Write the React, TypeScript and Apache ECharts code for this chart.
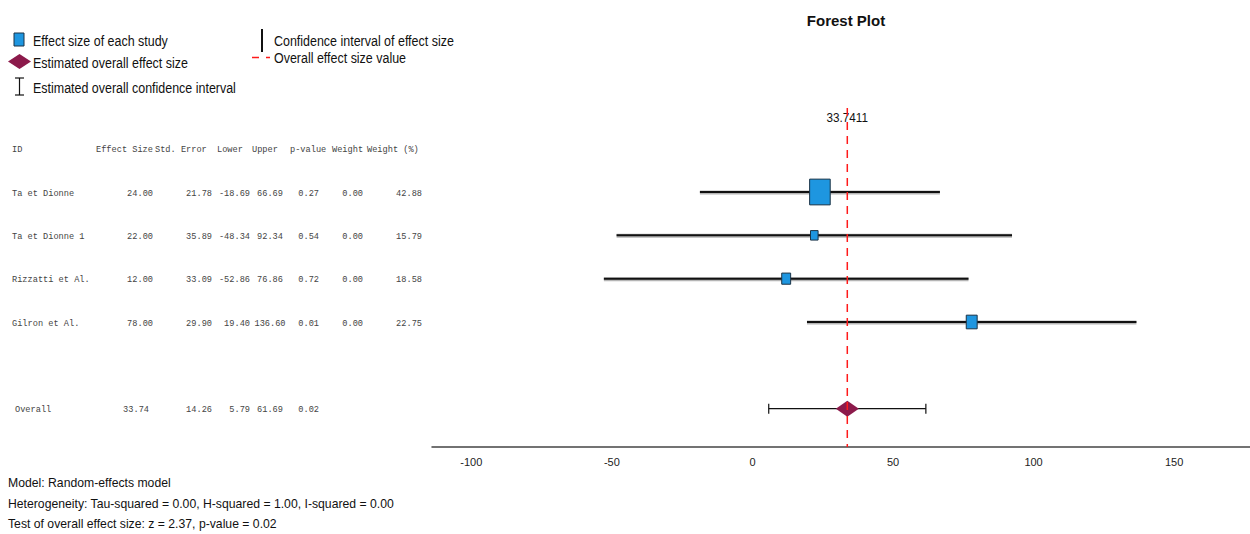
import React, { useEffect, useRef } from "react";
import * as echarts from "echarts";

// ---------- data ----------
const studyIds = ["Ta et Dionne", "Ta et Dionne 1", "Rizzatti et Al.", "Gilron et Al."];
const effectSizes = [24.0, 22.0, 12.0, 78.0];
const stdErrors = [21.78, 35.89, 33.09, 29.9];
const lowers = [-18.69, -48.34, -52.86, 19.4];
const uppers = [66.69, 92.34, 76.86, 136.6];
const pValues = [0.27, 0.54, 0.72, 0.01];
const weights = [0.0, 0.0, 0.0, 0.0];
const weightPcts = [42.88, 15.79, 18.58, 22.75];

const overallLabel = "Overall";
const overallEffect = 33.7411;
const overallSE = 14.26;
const overallLower = 5.79;
const overallUpper = 61.69;
const overallP = 0.02;

const xTicks = [-100, -50, 0, 50, 100, 150];
const tableHeaders = ["Effect Size", "Std. Error", "Lower", "Upper", "p-value", "Weight", "Weight (%)"];
const footerLines = [
  "Model: Random-effects model",
  "Heterogeneity: Tau-squared = 0.00, H-squared = 1.00, I-squared = 0.00",
  "Test of overall effect size: z = 2.37, p-value = 0.02",
];

// ---------- layout ----------
const W = 1250;
const H = 534;
const GRID_LEFT = 432;
const GRID_TOP = 108;
const AXIS_Y = 447;
const ROW1_Y = 192;
const ROW_STEP = 43.33;
const OVERALL_ROW = 6;
const HEADER_ROW = 0;

const SANS = '"Liberation Sans", "Noto Sans", sans-serif';
const MONO = '"Liberation Mono", monospace';
const BLUE = "#1e96e0";
const BOX_EDGE = "#1b3346";
const MAROON = "#8c1a4b";
const RED = "#ff1a1a";

const headerLeftX = [96, 155, 217, 252, 290, 332, 367];
const colPos: [number, string][] = [
  [153, "right"],
  [212, "right"],
  [250, "right"],
  [270, "center"],
  [319, "right"],
  [363, "right"],
  [422, "right"],
];

export default function App() {
  const ref = useRef<HTMLDivElement>(null);

  useEffect(() => {
    if (!ref.current) return;
    const chart = echarts.init(ref.current, null, { renderer: "svg" });

    const yMin = 1 - (ROW1_Y - GRID_TOP) / ROW_STEP;
    const yMax = 1 + (AXIS_Y - ROW1_Y) / ROW_STEP;

    const studyData = studyIds.map((_, i) => [
      effectSizes[i],
      lowers[i],
      uppers[i],
      weightPcts[i],
      i + 1,
    ]);

    chart.setOption({
      animation: false,
      backgroundColor: "#ffffff",
      title: {
        text: "Forest Plot",
        left: GRID_LEFT + (W - GRID_LEFT) / 2,
        textAlign: "center",
        top: 8,
        textStyle: { fontFamily: SANS, fontSize: 15, fontWeight: "bold", color: "#111" },
      },
      grid: { left: GRID_LEFT, right: 0, top: GRID_TOP, bottom: H - AXIS_Y },
      xAxis: {
        type: "value",
        min: -114,
        max: 177,
        axisLine: { show: true, onZero: false, lineStyle: { color: "#444", width: 1.5 } },
        axisTick: { show: false },
        splitLine: { show: false },
        axisLabel: {
          customValues: xTicks,
          margin: 9,
          fontFamily: SANS,
          fontSize: 11,
          color: "#222",
        },
      },
      yAxis: {
        type: "value",
        inverse: true,
        min: yMin,
        max: yMax,
        show: false,
      },
      series: [
        {
          type: "custom",
          name: "studies",
          data: studyData,
          encode: { x: 0, y: 4 },
          renderItem: (params: any, api: any) => {
            const row = api.value(4);
            const c = api.coord([api.value(0), row]);
            const l = api.coord([api.value(1), row]);
            const u = api.coord([api.value(2), row]);
            const wp = api.value(3);
            const bw = wp * 0.48;
            const bh = wp * 0.6;
            return {
              type: "group",
              children: [
                {
                  type: "line",
                  shape: { x1: l[0], y1: l[1] + 0.5, x2: u[0], y2: u[1] + 0.5 },
                  style: { stroke: "#b5b5b5", lineWidth: 4 },
                },
                {
                  type: "line",
                  shape: { x1: l[0], y1: l[1], x2: u[0], y2: u[1] },
                  style: { stroke: "#111", lineWidth: 2 },
                },
                {
                  type: "rect",
                  shape: { x: c[0] - bw / 2, y: c[1] - bh / 2, width: bw, height: bh },
                  style: { fill: BLUE, stroke: BOX_EDGE, lineWidth: 1 },
                },
              ],
            };
          },
        },
        {
          type: "custom",
          name: "overall",
          data: [[overallEffect, overallLower, overallUpper, OVERALL_ROW]],
          encode: { x: 0, y: 3 },
          renderItem: (params: any, api: any) => {
            const row = api.value(3);
            const c = api.coord([api.value(0), row]);
            const l = api.coord([api.value(1), row]);
            const u = api.coord([api.value(2), row]);
            return {
              type: "group",
              children: [
                { type: "line", shape: { x1: l[0], y1: l[1], x2: u[0], y2: u[1] }, style: { stroke: "#111", lineWidth: 1.2 } },
                { type: "line", shape: { x1: l[0], y1: l[1] - 5, x2: l[0], y2: l[1] + 5 }, style: { stroke: "#111", lineWidth: 1.2 } },
                { type: "line", shape: { x1: u[0], y1: u[1] - 5, x2: u[0], y2: u[1] + 5 }, style: { stroke: "#111", lineWidth: 1.2 } },
                {
                  type: "polygon",
                  shape: { points: [[c[0] - 11.5, c[1]], [c[0], c[1] - 8], [c[0] + 11.5, c[1]], [c[0], c[1] + 8]] },
                  style: { fill: MAROON },
                },
              ],
            };
          },
        },
      ],
    });

    const rowY = (r: number) => (chart.convertToPixel({ yAxisIndex: 0 }, r) as number) + 1;
    const meanX = chart.convertToPixel({ xAxisIndex: 0 }, overallEffect) as number;

    const g: any[] = [];
    const mono = (text: string, x: number, y: number, align: string) => ({
      type: "text",
      x,
      y,
      scaleX: 0.9,
      style: { text, fontFamily: MONO, fontSize: 9.6, fill: "#444", align, verticalAlign: "middle" },
    });
    const sans = (text: string, x: number, y: number, size: number, sx: number) => ({
      type: "text",
      x,
      y,
      scaleX: sx,
      style: { text, fontFamily: SANS, fontSize: size, fill: "#111", align: "left", verticalAlign: "middle" },
    });

    // header
    const hy = rowY(HEADER_ROW);
    g.push(mono("ID", 12, hy, "left"));
    tableHeaders.forEach((h, i) => g.push(mono(h, headerLeftX[i], hy, "left")));

    studyIds.forEach((id, i) => {
      const y = rowY(i + 1);
      g.push(mono(id, 12, y, "left"));
      const vals = [effectSizes[i], stdErrors[i], lowers[i], uppers[i], pValues[i], weights[i], weightPcts[i]];
      vals.forEach((v, j) => g.push(mono(v.toFixed(2), colPos[j][0], y, colPos[j][1])));
    });

    const oy = rowY(OVERALL_ROW);
    g.push(mono(overallLabel, 15, oy, "left"));
    const oVals = [overallEffect, overallSE, overallLower, overallUpper, overallP];
    oVals.forEach((v, j) =>
      g.push(mono(v.toFixed(2), colPos[j][0] - (j === 0 ? 4 : 0), oy, colPos[j][1]))
    );

    // dashed overall line
    g.push({
      type: "line",
      z: 5,
      shape: { x1: meanX, y1: GRID_TOP, x2: meanX, y2: AXIS_Y },
      style: { stroke: RED, lineWidth: 1.5, lineDash: [8, 6] },
    });

    // mean label above dashed line
    g.push({
      type: "text",
      x: meanX,
      y: 118,
      z: 4,
      scaleX: 0.9,
      style: { text: String(overallEffect), fontFamily: SANS, fontSize: 13, fill: "#111", align: "center", verticalAlign: "middle" },
    });

    // legend
    const LS = 14;
    const LX = 0.89;
    g.push({ type: "rect", shape: { x: 14, y: 33, width: 10, height: 13 }, style: { fill: BLUE, stroke: BOX_EDGE, lineWidth: 1 } });
    g.push(sans("Effect size of each study", 33, 41, LS, LX));
    g.push({
      type: "polygon",
      shape: { points: [[8, 61.5], [19.5, 54], [31, 61.5], [19.5, 69]] },
      style: { fill: MAROON },
    });
    g.push(sans("Estimated overall effect size", 33, 63, LS, LX));
    g.push({ type: "line", shape: { x1: 19.5, y1: 78, x2: 19.5, y2: 95 }, style: { stroke: "#111", lineWidth: 1.2 } });
    g.push({ type: "line", shape: { x1: 15, y1: 78, x2: 24, y2: 78 }, style: { stroke: "#111", lineWidth: 1.2 } });
    g.push({ type: "line", shape: { x1: 15, y1: 95, x2: 24, y2: 95 }, style: { stroke: "#111", lineWidth: 1.2 } });
    g.push(sans("Estimated overall confidence interval", 33, 88, LS, LX));
    g.push({ type: "line", shape: { x1: 262, y1: 29, x2: 262, y2: 52 }, style: { stroke: "#111", lineWidth: 2 } });
    g.push(sans("Confidence interval of effect size", 274, 41, LS, LX));
    g.push({ type: "line", shape: { x1: 252, y1: 57.5, x2: 259, y2: 57.5 }, style: { stroke: RED, lineWidth: 1.5 } });
    g.push({ type: "line", shape: { x1: 266, y1: 57.5, x2: 270, y2: 57.5 }, style: { stroke: RED, lineWidth: 1.5 } });
    g.push(sans("Overall effect size value", 274, 58, LS, LX));

    // footer
    const footerY = [483, 504, 524];
    footerLines.forEach((t, i) => g.push(sans(t, 8, footerY[i], 13, 0.94)));

    chart.setOption({ graphic: { elements: g } });

    return () => chart.dispose();
  }, []);

  return (
    <div
      ref={ref}
      style={{ position: "fixed", left: 0, top: 0, width: W, height: H, background: "#fff" }}
    />
  );
}
